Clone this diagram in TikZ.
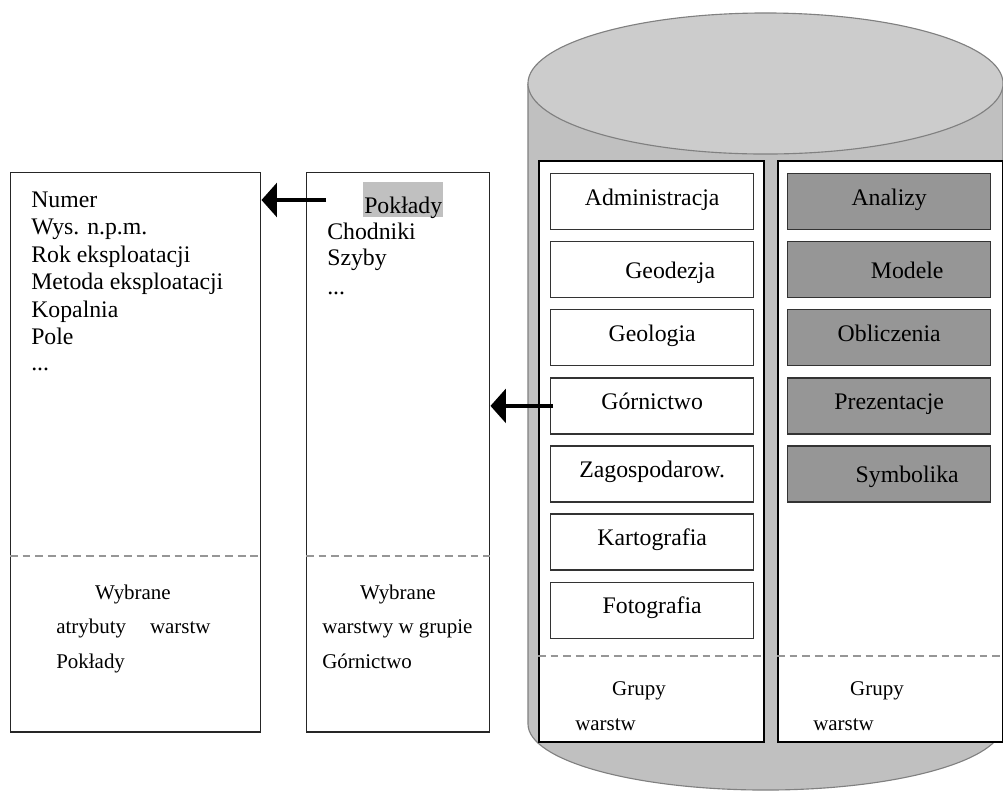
\documentclass[tikz,border=0pt]{standalone}
\usepackage{fontspec}
\setmainfont{Liberation Serif}
\usetikzlibrary{positioning,arrows.meta}
\definecolor{cylgray}{RGB}{192,192,192}
\definecolor{cyltop}{RGB}{204,204,204}
\definecolor{cylline}{RGB}{128,128,128}
\definecolor{toolgray}{RGB}{150,150,150}
\definecolor{sepgray}{RGB}{150,150,150}
\definecolor{markgray}{RGB}{192,192,192}
\newcommand{\bigtxt}{\fontsize{16.9}{19.6}\selectfont}
\newcommand{\smalltxt}{\fontsize{14.9}{17}\selectfont}
\newcommand{\lowtxt}[1]{\hspace*{0.9cm}\raisebox{-3.5pt}{#1}}

\begin{document}
\begin{tikzpicture}[
  x=0.025cm, y=-0.025cm,
  panel/.style={rectangle, draw, fill=white, line width=1.2pt, anchor=north west,
                inner sep=0, minimum width=5.625cm, minimum height=14.525cm},
  listbox/.style={rectangle, draw=black!85, fill=white, line width=1pt, anchor=north west,
                  inner sep=0, minimum height=13.975cm},
  layer/.style={rectangle, draw=black!80, fill=white, line width=0.9pt, inner sep=0,
                minimum width=5.075cm, minimum height=1.4cm, text height=8pt, text depth=3pt,
                font=\bigtxt},
  tool/.style={layer, fill=toolgray},
  item/.style={anchor=base west, inner sep=0, font=\bigtxt},
  note/.style={anchor=base west, inner sep=0, font=\smalltxt},
  sep/.style={draw=sepgray, line width=0.9pt, dash pattern=on 5.5pt off 3.5pt},
  arr/.style={-{Triangle[length=11pt,width=24pt]}, line width=2.8pt}
]
\useasboundingbox (0,0) rectangle (1003,792);

% baza danych (walec)
\fill[cylgray] (528,84) -- (528,724)
  arc[start angle=180, end angle=360, x radius=5.9375cm, y radius=1.65cm] -- (1003,84) -- cycle;
\draw[cylline, line width=0.8pt] (528,84) -- (528,724)
  arc[start angle=180, end angle=360, x radius=5.9375cm, y radius=1.65cm] -- (1003,84);
\draw[cylline, fill=cyltop, line width=0.8pt] (765.5,83.5) ellipse [x radius=5.9375cm, y radius=1.7625cm];

% grupy warstw
\node[panel] (grpl) at (538,160) {};
\node[panel] (grpr) at (777,160) {};

\node[layer, anchor=north west] (adm) at (550,173) {Administracja};
\node[layer, below=0.27cm of adm] (geod) {\lowtxt{Geodezja}};
\node[layer, below=0.27cm of geod] (geol) {Geologia};
\node[layer, below=0.27cm of geol] (gorn) {Górnictwo};
\node[layer, below=0.27cm of gorn] (zag) {Zagospodarow.};
\node[layer, below=0.27cm of zag] (kart) {Kartografia};
\node[layer, below=0.27cm of kart] (foto) {Fotografia};

\node[tool, anchor=north west] (anal) at (787,173) {Analizy};
\node[tool, below=0.27cm of anal] (mod) {\lowtxt{Modele}};
\node[tool, below=0.27cm of mod] (obl) {Obliczenia};
\node[tool, below=0.27cm of obl] (prez) {Prezentacje};
\node[tool, below=0.27cm of prez] (symb) {\lowtxt{Symbolika}};

\draw[sep] (grpl.west |- 0,656) -- (grpl.east |- 0,656);
\draw[sep] (grpr.west |- 0,656) -- (grpr.east |- 0,656);
\node[note, anchor=base] (grpl1) at (639,695) {Grupy};
\node[note] (grpl2) at (575,730) {warstw};
\node[note, anchor=base] (grpr1) at (877,695) {Grupy};
\node[note] (grpr2) at (813,730) {warstw};

% wybrane atrybuty
\node[listbox, minimum width=6.25cm] (attr) at (10,172) {};
\foreach \t [count=\i from 0] in {Numer,Wys. n.p.m.,Rok eksploatacji,Metoda eksploatacji,Kopalnia,Pole}
  \node[item] (att\i) at (31,207+27.5*\i) {\t};
\node[item] (attdots) at (31,370) {...};
\draw[sep] (attr.west |- 0,556) -- (attr.east |- 0,556);
\node[note, anchor=base] (attw) at (133,599) {Wybrane};
\node[note] (attn) at (56,633) {atrybuty\hspace{17pt}warstw};
\node[note] (attp) at (56,668) {Pokłady};

% wybrane warstwy
\node[listbox, minimum width=4.575cm] (lay) at (306,172) {};
\node[item, fill=markgray, inner xsep=0.7pt, text height=22pt, text depth=3pt] (pok) at (363,213) {Pokłady};
\node[item] (chod) at (327,239) {Chodniki};
\node[item] (szyb) at (327,265) {Szyby};
\node[item] (laydots) at (327,294) {...};
\draw[sep] (lay.west |- 0,556) -- (lay.east |- 0,556);
\node[note, anchor=base] (layw) at (398,599) {Wybrane};
\node[note] (layn) at (322,633) {warstwy w grupie};
\node[note] (layg) at (322,668) {Górnictwo};

% strzalki
\coordinate (pokarr) at (326,200);
\draw[arr] (pokarr) -- (pokarr -| attr.east);
\draw[arr] ([xshift=0.075cm]gorn.west) -- (gorn.west -| lay.east);
\end{tikzpicture}
\end{document}
